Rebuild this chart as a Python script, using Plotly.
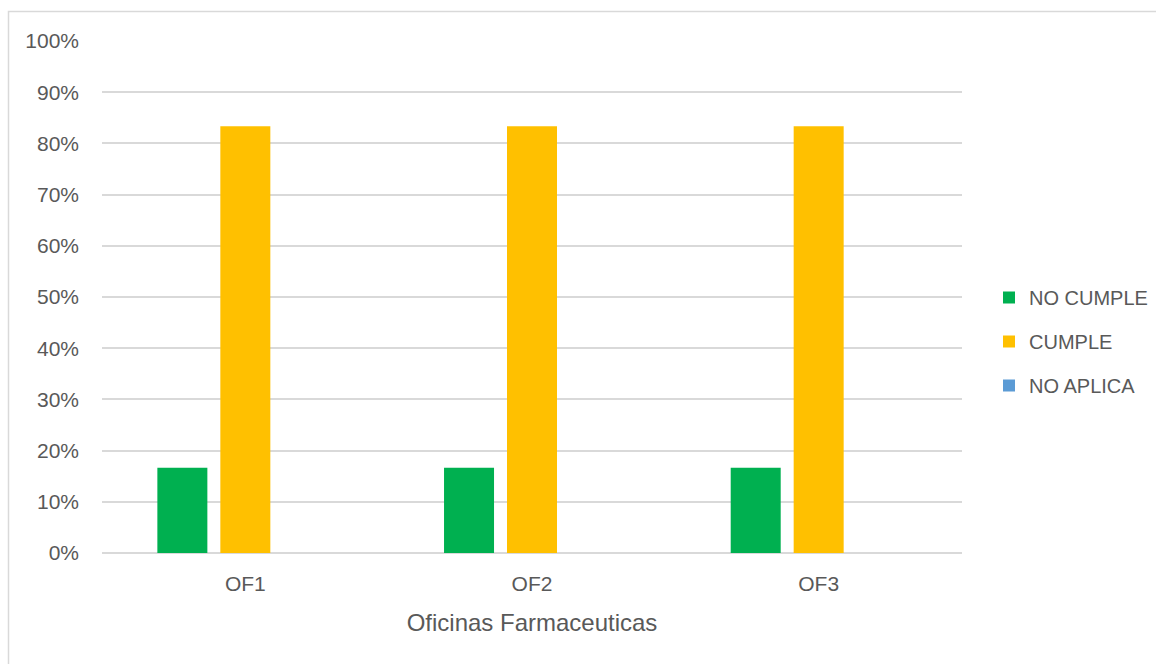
import plotly.graph_objects as go

# Compliance share per pharmacy office
categories = ["OF1", "OF2", "OF3"]
no_cumple = [1/6, 1/6, 1/6]
cumple = [5/6, 5/6, 5/6]
no_aplica = [0.0, 0.0, 0.0]

series = [
    ("NO CUMPLE", no_cumple, "#00B050"),
    ("CUMPLE", cumple, "#FFC000"),
    ("NO APLICA", no_aplica, "#5B9BD5"),
]

FONT = "Liberation Sans, Arial, sans-serif"
TEXT = "#595959"
GRID = "#D9D9D9"

W, H = 1156, 664
L, R, T, B = 102, 194, 41, 111

fig = go.Figure()
for i, (name, vals, color) in enumerate(series):
    fig.add_trace(go.Bar(
        x=categories, y=vals, name=name, marker_color=color,
        marker_line_width=0, legendgroup=f"g{i}",
        hovertemplate="%{x}: %{y:.1%}<extra>" + name + "</extra>",
    ))

pw, ph = W - L - R, H - T - B

def px_x(p):
    return (p - L) / pw

def px_y(p):
    return (H - B - p) / ph

fig.update_layout(
    width=W, height=H,
    margin=dict(l=L, r=R, t=T, b=B, pad=0, autoexpand=False),
    paper_bgcolor="white", plot_bgcolor="white",
    barmode="group", bargap=0.341, bargroupgap=0.206,
    font=dict(family=FONT, color=TEXT, size=21),
    showlegend=True,
    legend=dict(
        x=px_x(989), y=px_y(278), xanchor="left", yanchor="top",
        font=dict(size=20, color=TEXT), tracegroupgap=15,
        itemwidth=30, bgcolor="rgba(0,0,0,0)",
    ),
    xaxis=dict(
        showgrid=False, showline=False, ticks="",
        tickfont=dict(size=21, color=TEXT), ticklabelstandoff=16,
        title=dict(text="Oficinas Farmaceuticas", font=dict(size=24, color=TEXT), standoff=20),
    ),
    yaxis=dict(
        range=[0, 1], dtick=0.1, tickformat=".0%",
        showgrid=True, gridcolor=GRID, gridwidth=1.5,
        zeroline=True, zerolinecolor=GRID, zerolinewidth=1.5,
        showline=False, ticks="", ticklabelstandoff=22,
        tickfont=dict(size=21, color=TEXT),
    ),
    shapes=[dict(
        type="rect", xref="paper", yref="paper", layer="below",
        x0=px_x(8.5), x1=px_x(1170), y0=px_y(680), y1=px_y(11.5),
        line=dict(color=GRID, width=1.5), fillcolor="rgba(0,0,0,0)",
    )],
)

fig.write_html("out.html")
